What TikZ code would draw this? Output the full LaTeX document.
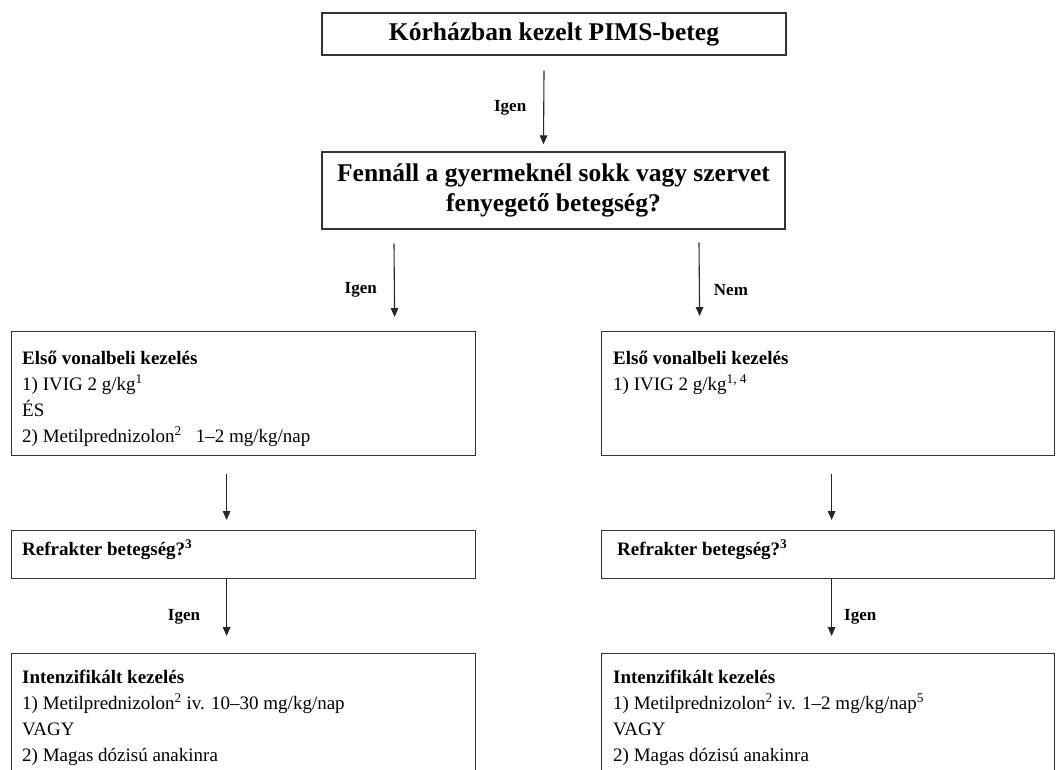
\documentclass[tikz,border=0pt]{standalone}
\usepackage{fontspec}
\setmainfont{Liberation Serif}
\usetikzlibrary{arrows.meta}
\begin{document}
\begin{tikzpicture}[x=1pt,y=-1pt,
  box/.style={draw=black!80, line width=1.2pt, inner sep=0pt},
  arr/.style={draw=black!85, line width=1.1pt, -{Triangle[length=9pt,width=7.5pt]}},
  lbl/.style={font=\bfseries\fontsize{17}{20}\selectfont, inner sep=0pt},
  head/.style={font=\bfseries\fontsize{25.5}{30}\selectfont, align=center},
  txt/.style={font=\fontsize{19}{26}\selectfont, align=left, inner sep=0pt, anchor=base west}
]
\clip (0,0) rectangle (1056,769);
\fill[white] (0,0) rectangle (1056,769);

% boxes
\node[box, minimum width=464pt, minimum height=42pt, head] (top) at (554,34) {Kórházban kezelt PIMS-beteg};
\node[box, minimum width=463pt, minimum height=77pt, head] (q) at (553.5,190.5) {Fennáll a gyermeknél sokk vagy szervet\\fenyegető betegség?};

\node[box, anchor=north west, minimum width=464pt, minimum height=124pt] (l1) at (11,331) {};
\node[box, anchor=north west, minimum width=453pt, minimum height=124pt] (r1) at (601,331) {};
\node[box, anchor=north west, minimum width=464pt, minimum height=48pt] (l2) at (11,530) {};
\node[box, anchor=north west, minimum width=453pt, minimum height=48pt] (r2) at (601,530) {};
\node[box, anchor=north west, minimum width=464pt, minimum height=140pt] (l3) at (11,653) {};
\node[box, anchor=north west, minimum width=453pt, minimum height=140pt] (r3) at (601,653) {};

% texts (anchored at the baseline of their last line)
\node[txt] (l1t) at (22,442) {\textbf{Első vonalbeli kezelés}\\1) IVIG 2 g/kg\textsuperscript{1}\\ÉS\\2) Metilprednizolon\textsuperscript{2}\hspace{14pt}1–2 mg/kg/nap};
\node[txt] (r1t) at (613,390) {\textbf{Első vonalbeli kezelés}\\1) IVIG 2 g/kg\textsuperscript{1, 4}};
\node[txt] (l2t) at (22,555) {\textbf{Refrakter betegség?\textsuperscript{3}}};
\node[txt] (r2t) at (617,555) {\textbf{Refrakter betegség?\textsuperscript{3}}};
\node[txt] (l3t) at (22,761) {\textbf{Intenzifikált kezelés}\\1) Metilprednizolon\textsuperscript{2} iv. 10–30 mg/kg/nap\\VAGY\\2) Magas dózisú anakinra};
\node[txt] (r3t) at (613,761) {\textbf{Intenzifikált kezelés}\\1) Metilprednizolon\textsuperscript{2} iv. 1–2 mg/kg/nap\textsuperscript{5}\\VAGY\\2) Magas dózisú anakinra};

% connectors
\draw[arr] ([xshift=-10pt,yshift=-15pt]top.south) -- ([xshift=-10pt,yshift=7pt]q.north)
  node[lbl, midway, left=17pt] {Igen};
\draw[arr] ([xshift=-159.5pt,yshift=-14pt]q.south) -- ([xshift=151pt,yshift=14pt]l1.north)
  node[lbl, pos=0.63, left=17pt] {Igen};
\draw[arr] ([xshift=145.5pt,yshift=-13pt]q.south) -- ([xshift=-128.5pt,yshift=15pt]r1.north)
  node[lbl, pos=0.65, right=14pt] {Nem};
\draw[arr] ([xshift=-17pt,yshift=-18pt]l1.south) -- ([xshift=-17pt,yshift=10pt]l2.north);
\draw[arr] ([xshift=3.5pt,yshift=-18pt]r1.south) -- ([xshift=3.5pt,yshift=10pt]r2.north);
\draw[arr] ([xshift=-17pt]l2.south) -- ([xshift=-17pt,yshift=17pt]l3.north)
  node[lbl, pos=0.67, left=26pt] {Igen};
\draw[arr] ([xshift=3.5pt]r2.south) -- ([xshift=3.5pt,yshift=17pt]r3.north)
  node[lbl, pos=0.67, right=12pt] {Igen};
\end{tikzpicture}
\end{document}
